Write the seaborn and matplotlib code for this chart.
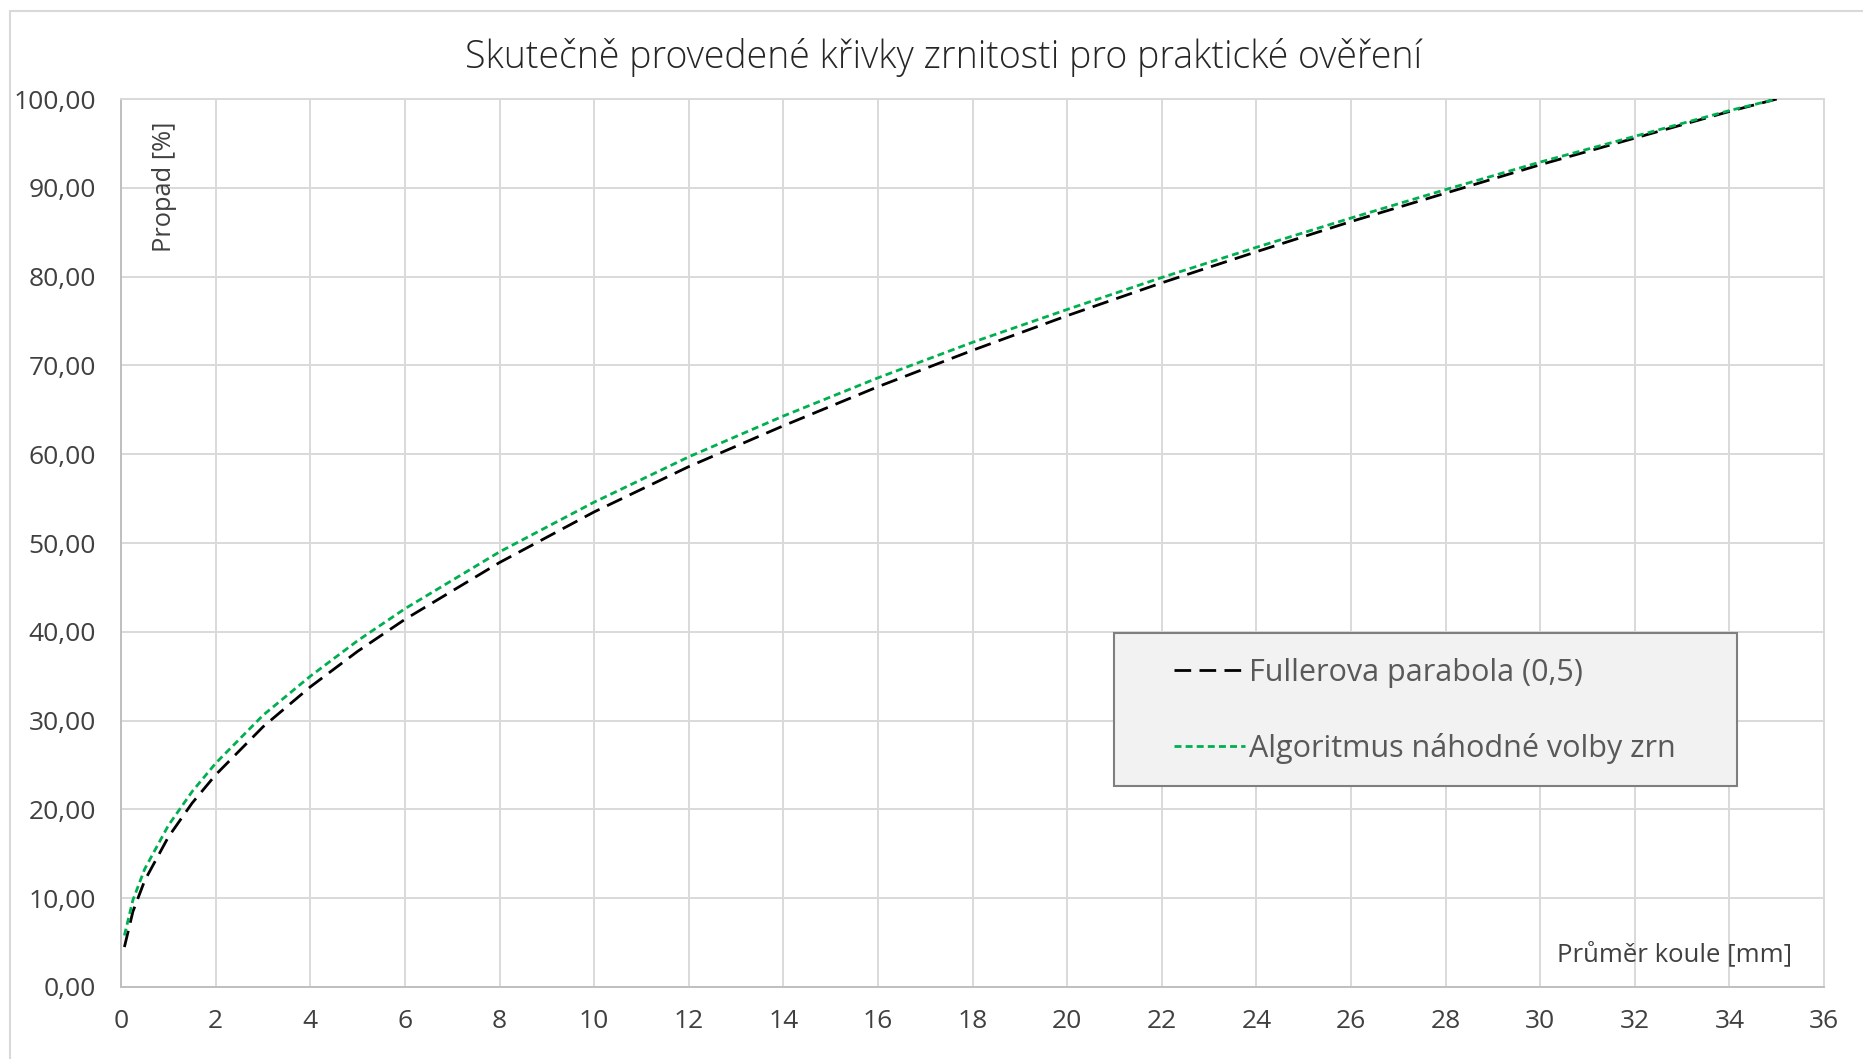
import numpy as np
import pandas as pd
import matplotlib
matplotlib.use("Agg")
import matplotlib.pyplot as plt
import seaborn as sns
from matplotlib.patches import Rectangle

# grain size [mm] and passing [%]
prumer = [0.07, 0.25, 0.5, 1, 1.5, 2, 3, 4, 5, 6, 8, 10, 12, 14, 16, 18, 20,
          22, 24, 26, 28, 30, 32, 34, 35]
fuller = [4.5, 8.5, 12.0, 16.9, 20.7, 23.9, 29.3, 33.8, 37.8, 41.4, 47.8, 53.5,
          58.6, 63.2, 67.6, 71.7, 75.6, 79.3, 82.8, 86.2, 89.4, 92.6, 95.6, 98.6, 100.0]
algoritmus = [5.8, 9.8, 13.3, 18.2, 22.0, 25.2, 30.6, 35.0, 39.0, 42.6, 49.0, 54.6,
              59.7, 64.3, 68.6, 72.6, 76.3, 79.9, 83.3, 86.6, 89.8, 92.9, 95.8, 98.7, 100.0]

serie_fuller = 'Fullerova parabola (0,5)'
serie_algo = 'Algoritmus náhodné volby zrn'

df = pd.DataFrame({'d': prumer * 2,
                   'p': fuller + algoritmus,
                   'serie': [serie_fuller] * len(prumer) + [serie_algo] * len(prumer)})

sns.set_style('white')
plt.rcParams['font.family'] = ['Open Sans', 'DejaVu Sans']

fig = plt.figure(figsize=(18.63, 10.59), dpi=100)
ax = fig.add_axes([0.0650, 0.0680, 0.9141, 0.8385])

sns.lineplot(data=df, x='d', y='p', hue='serie', style='serie',
             palette={serie_fuller: 'black', serie_algo: '#00b050'},
             dashes={serie_fuller: (6, 3), serie_algo: (2.5, 1.5)},
             linewidth=2.0, ax=ax, zorder=3)

ax.set_xlim(0, 36)
ax.set_ylim(0, 100)
ax.set_xticks(np.arange(0, 37, 2))
ax.set_yticks(np.arange(0, 101, 10))
ax.set_yticklabels([f'{v:.2f}'.replace('.', ',') for v in np.arange(0, 101, 10)])
ax.tick_params(axis='both', length=0, labelsize=19, labelcolor='#404040')
ax.tick_params(axis='y', pad=18)
ax.tick_params(axis='x', pad=16)
ax.grid(True, color='#d9d9d9', linewidth=1.4)
for s in ax.spines.values():
    s.set_color('#d9d9d9')
    s.set_linewidth(1.4)
ax.spines['left'].set_color('#bfbfbf')
ax.spines['bottom'].set_color('#bfbfbf')

ax.set_xlabel('')
ax.set_ylabel('')
ax.text(0.0255, 0.975, 'Propad [%]', transform=ax.transAxes, rotation=90,
        ha='center', va='top', fontsize=18.3, color='#404040')
ax.text(0.981, 0.022, 'Průměr koule [mm]', transform=ax.transAxes,
        ha='right', va='bottom', fontsize=18.5, color='#404040')

fig.text(0.5064, 0.946, 'Skutečně provedené křivky zrnitosti pro praktické ověření',
         ha='center', va='center', fontsize=27, color='#262626', fontweight='light')

# legend frame drawn separately (Excel-like padding)
ax.add_patch(Rectangle((0.583, 0.2264), 0.366, 0.1722, transform=ax.transAxes,
                       facecolor='#f2f2f2', edgecolor='#7f7f7f', linewidth=1.5,
                       zorder=4))
leg = ax.legend(loc='center left', bbox_to_anchor=(0.6185, 0.311), fontsize=22,
                frameon=False, borderpad=0, labelspacing=1.48, handlelength=2.3,
                handletextpad=0.15, borderaxespad=0)
leg.set_zorder(5)
for t in leg.get_texts():
    t.set_color('#595959')
for h in leg.get_lines():
    h.set_linewidth(2)

# outer chart border
fig.patches.append(Rectangle((10 / 1863, -0.05), 1.1, 1 - 11 / 1059 + 0.05,
                             transform=fig.transFigure, fill=False,
                             edgecolor='#d9d9d9', linewidth=1.5))

fig.savefig('out.png', dpi=100)
